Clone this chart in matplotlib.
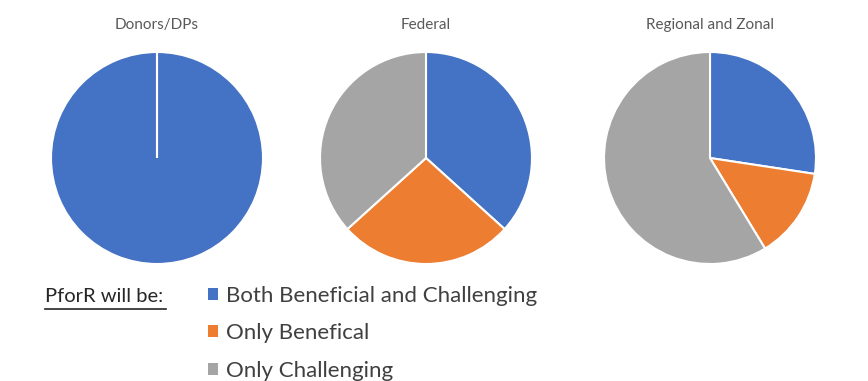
import matplotlib.pyplot as plt
from matplotlib.patches import Patch
from matplotlib.lines import Line2D

# Share of responses (percent) per stakeholder group
groups = ["Donors/DPs", "Federal", "Regional and Zonal"]
categories = ["Both Beneficial and Challenging", "Only Benefical", "Only Challenging"]
donors = [100.0, 0.0, 0.0]
federal = [36.7, 26.6, 36.7]
regional = [27.4, 13.9, 58.7]
colors = ["#4472C4", "#ED7D31", "#A5A5A5"]

W, H = 868, 381
fig = plt.figure(figsize=(W / 100, H / 100), dpi=100)
plt.rcParams["font.family"] = ["Lato", "DejaVu Sans"]

centers_x = [157, 426, 710]
center_y = 158
radius = 106

for name, vals, cx in zip(groups, [donors, federal, regional], centers_x):
    ax = fig.add_axes([(cx - radius) / W, (H - center_y - radius) / H,
                       2 * radius / W, 2 * radius / H])
    # zero-size slices still leave their white border as a radial line
    ax.pie(vals, colors=colors, startangle=90, counterclock=False, radius=1.0,
           wedgeprops=dict(edgecolor="white", linewidth=1.5))
    ax.set_xlim(-1.0, 1.0)
    ax.set_ylim(-1.0, 1.0)
    ax.set_aspect("equal")
    ax.axis("off")
    fig.text(cx / W, 1 - 25 / H, name, ha="center", va="center",
             fontsize=11, color="#595959")

# Legend block
fig.text(45 / W, 1 - 297 / H, "PforR will be:", ha="left", va="center",
         fontsize=14.5, color="#262626")
fig.add_artist(Line2D([45 / W, 166 / W], [1 - 309 / H, 1 - 309 / H],
                      color="#262626", linewidth=1.2))

handles = [Patch(facecolor=c, edgecolor="none") for c in colors]
leg = fig.legend(handles, categories, loc="upper left",
                 bbox_to_anchor=(208 / W, 1 - 285.5 / H), frameon=False,
                 fontsize=16, handlelength=0.45, handleheight=0.45,
                 handletextpad=0.36, labelspacing=0.79, borderaxespad=0,
                 borderpad=0)
for t in leg.get_texts():
    t.set_color("#404040")

fig.savefig("out.png", dpi=100)
